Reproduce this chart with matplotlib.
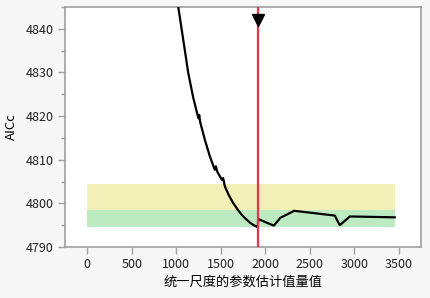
import matplotlib.pyplot as plt
from matplotlib.ticker import MultipleLocator

plt.rcParams["font.family"] = ["Noto Sans CJK SC", "DejaVu Sans"]

# AICc versus the scaled parameter estimate magnitude
scale_vals = [1022, 1060, 1134, 1190, 1240, 1250, 1258, 1268, 1321, 1377,
              1433, 1445, 1460, 1512, 1527, 1546, 1590, 1639, 1700, 1752,
              1827, 1870, 1902, 1917, 1920, 2096, 2171, 2325, 2781, 2838,
              2950, 3455]
aicc_vals = [4845.1, 4840.0, 4830.0, 4824.3, 4820.2, 4819.5, 4820.3, 4818.7,
             4814.6, 4810.8, 4807.7, 4808.5, 4807.3, 4805.4, 4805.8, 4803.9,
             4801.9, 4800.1, 4798.3, 4797.0, 4795.6, 4795.0, 4794.7, 4794.5,
             4796.4, 4794.9, 4796.7, 4798.3, 4797.2, 4795.0, 4797.0, 4796.8]

best_x = 1918
aicc_min = 4794.5
band_end = 3455
green_width = 4
yellow_width = 10

fig = plt.figure(figsize=(4.31, 2.98), dpi=100, facecolor="#f7f7f7")
ax = fig.add_axes([65 / 431, 51 / 298, 356 / 431, 240 / 298])
ax.set_facecolor("white")

ax.fill_between([0, band_end], aicc_min + green_width, aicc_min + yellow_width,
                color="#f2f0b6", lw=0, zorder=1)
ax.fill_between([0, band_end], aicc_min, aicc_min + green_width,
                color="#bdebc1", lw=0, zorder=1)

ax.plot(scale_vals, aicc_vals, color="black", lw=1.6, zorder=3)
ax.axvline(best_x, color="#e8344a", lw=1.6, zorder=4)
ax.plot([best_x], [4842.0], marker="v", color="black", markersize=8.5,
        zorder=5, clip_on=False)

ax.set_xlim(-250, 3750)
ax.set_ylim(4790, 4845)
ax.xaxis.set_major_locator(MultipleLocator(500))
ax.yaxis.set_major_locator(MultipleLocator(10))
ax.yaxis.set_minor_locator(MultipleLocator(5))

for side in ax.spines.values():
    side.set_color("#a0a0a0")
    side.set_linewidth(1.2)
ax.tick_params(axis="both", which="major", color="#a0a0a0", length=5,
               width=1, labelsize=9, labelcolor="#222222", pad=3)
ax.tick_params(axis="y", which="minor", color="#a0a0a0", length=3, width=1)

ax.set_xlabel("统一尺度的参数估计值量值", fontsize=9.5, labelpad=3)
ax.set_ylabel("AICc", fontsize=9.5, labelpad=6)

fig.savefig("out.png", dpi=100, facecolor=fig.get_facecolor())
